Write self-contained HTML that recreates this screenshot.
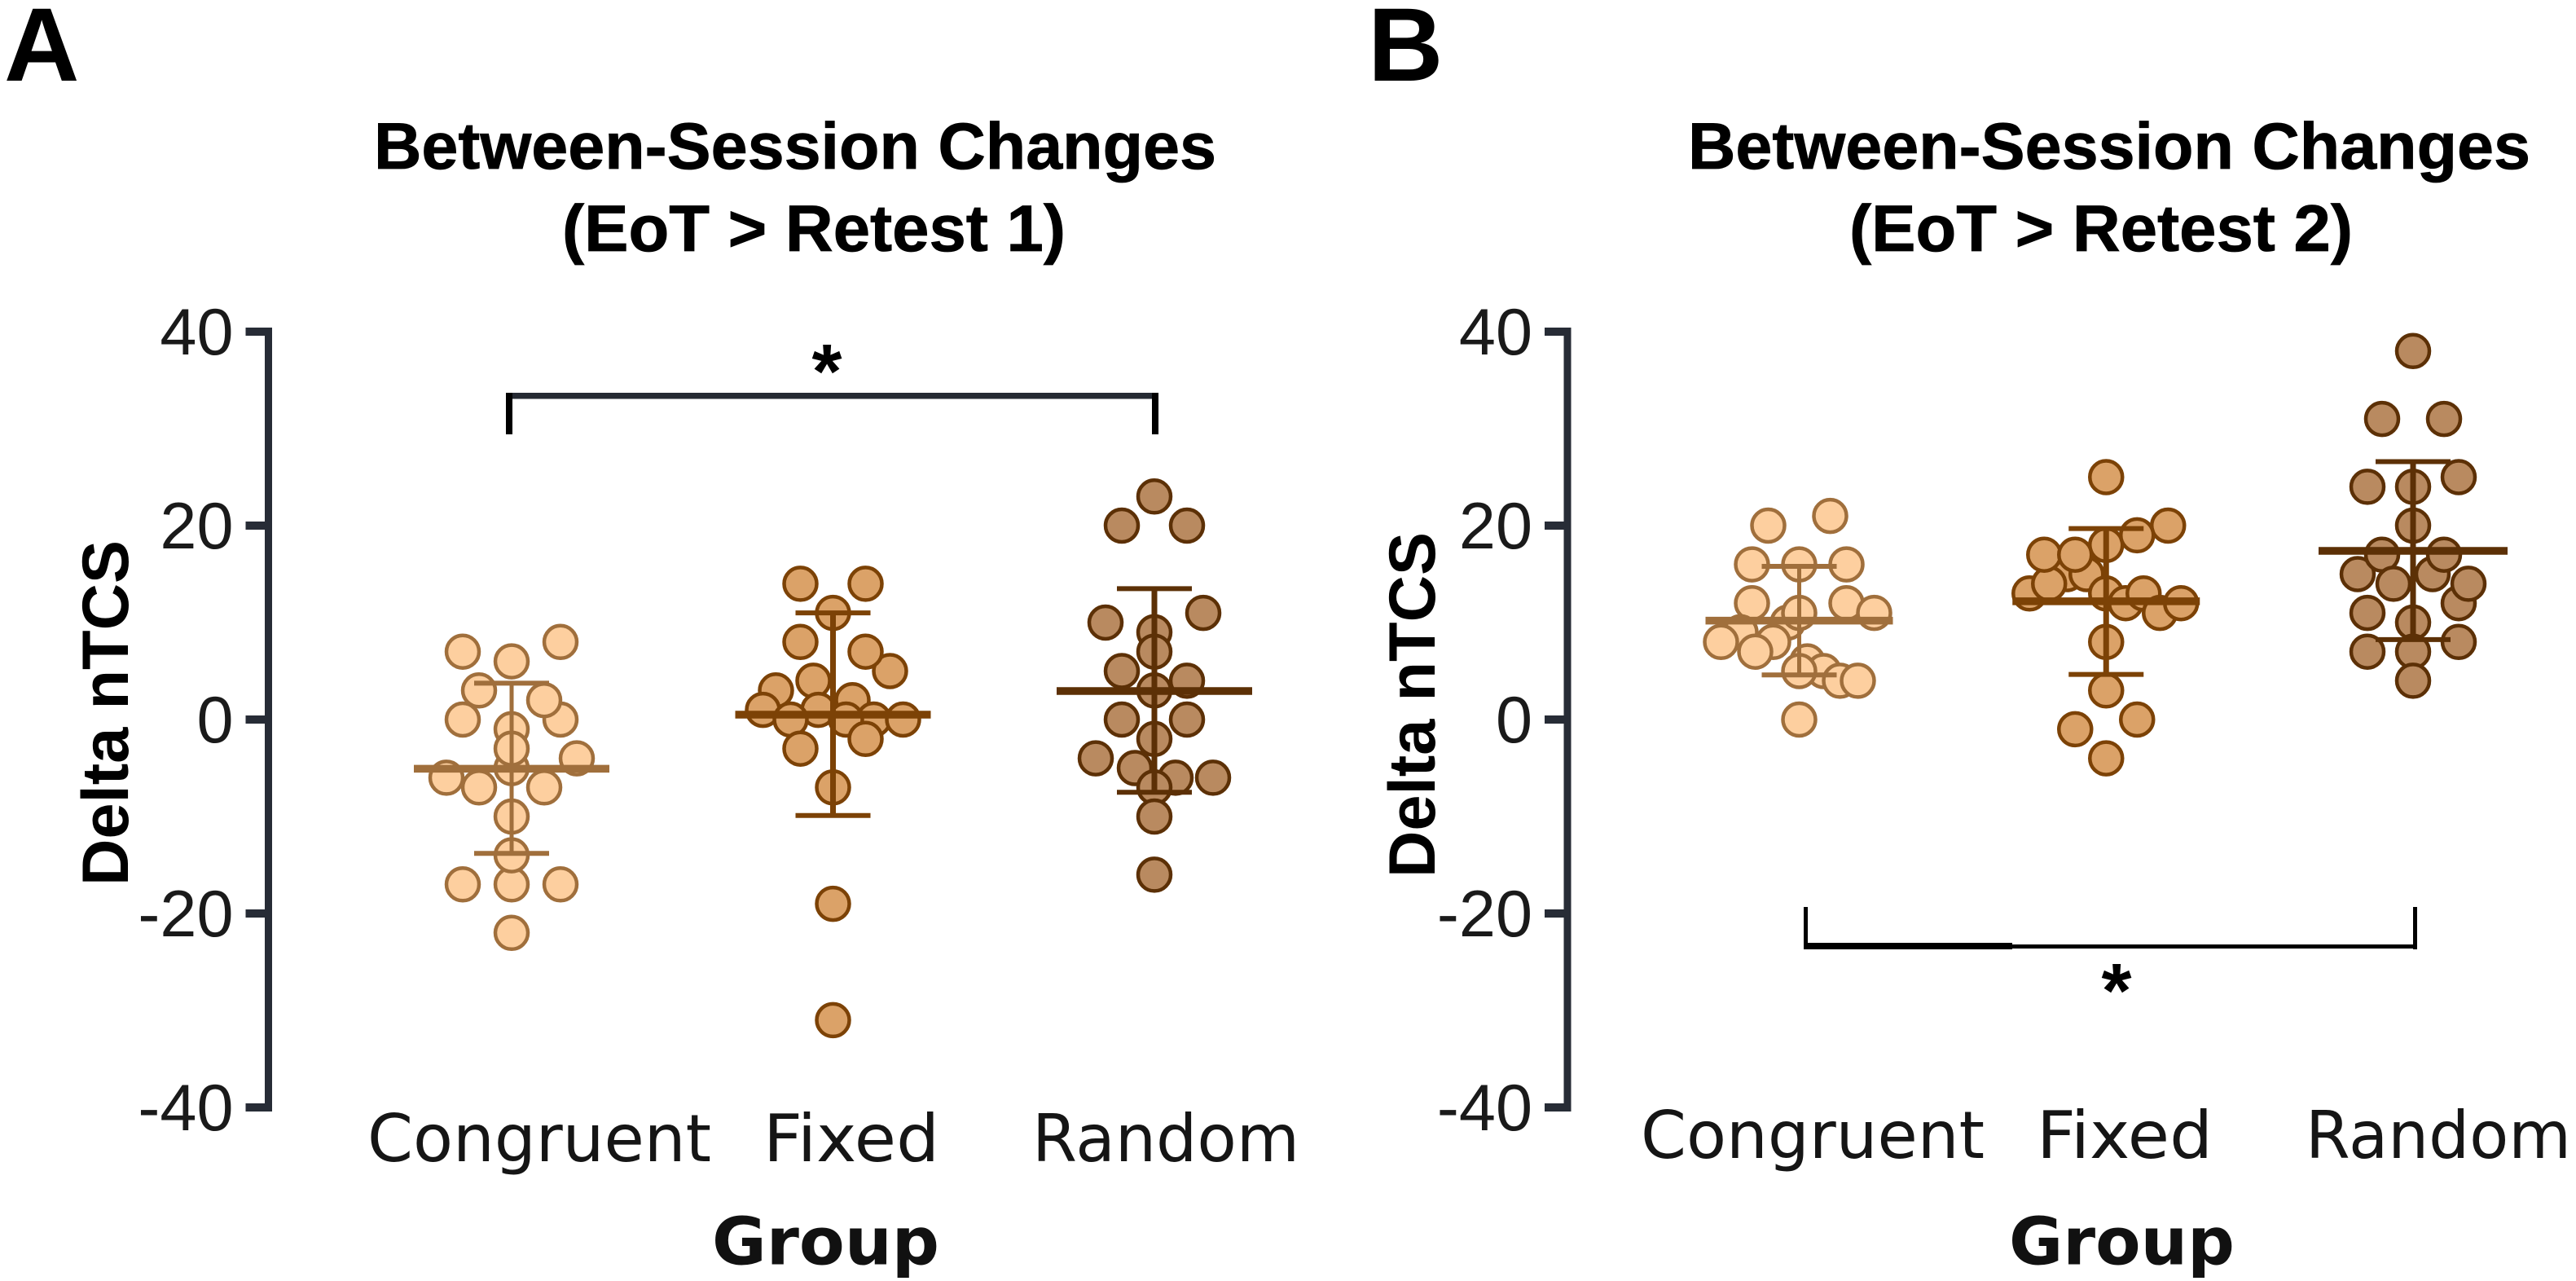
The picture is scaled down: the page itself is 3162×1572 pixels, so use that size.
<!DOCTYPE html>
<html lang="en">
<head>
<meta charset="utf-8">
<title>Between-Session Changes</title>
<style>
html,body{margin:0;padding:0;background:#fff;}
body{width:3162px;height:1572px;overflow:hidden;}
svg{display:block;}
.sans{font-family:"Liberation Sans",Arial,sans-serif;}
.bold{font-family:"Liberation Sans",Arial,sans-serif;font-weight:700;fill:#000;}
.cat{font-family:"DejaVu Sans",Verdana,sans-serif;fill:#151515;}
.catb{font-family:"DejaVu Sans",Verdana,sans-serif;font-weight:700;fill:#111;}
</style>
</head>
<body>
<svg id="chart" xmlns="http://www.w3.org/2000/svg" width="3162" height="1572" viewBox="0 0 3162 1572">
  <rect x="0" y="0" width="3162" height="1572" fill="#ffffff"/>

  <text class="bold" x="5" y="99" font-size="128">A</text>
  <text class="bold" x="1679" y="99" font-size="128">B</text>

  <text class="bold" x="459" y="207" font-size="81" textLength="1034" lengthAdjust="spacingAndGlyphs" stroke="#000" stroke-width="0.8">Between-Session Changes</text>
  <text class="bold" x="690" y="308" font-size="81" textLength="618" lengthAdjust="spacingAndGlyphs" stroke="#000" stroke-width="0.8">(EoT &gt; Retest 1)</text>
  <text class="bold" x="2072" y="207" font-size="81" textLength="1034" lengthAdjust="spacingAndGlyphs" stroke="#000" stroke-width="0.8">Between-Session Changes</text>
  <text class="bold" x="2270" y="308" font-size="81" textLength="618" lengthAdjust="spacingAndGlyphs" stroke="#000" stroke-width="0.8">(EoT &gt; Retest 2)</text>

  <text class="bold" transform="translate(157,1087) rotate(-90)" font-size="81" textLength="424" lengthAdjust="spacingAndGlyphs">Delta nTCS</text>
  <text class="bold" transform="translate(1761,1077) rotate(-90)" font-size="81" textLength="424" lengthAdjust="spacingAndGlyphs">Delta nTCS</text>

  <text class="catb" x="874" y="1551.5" font-size="80" textLength="279" lengthAdjust="spacingAndGlyphs">Group</text>
  <text class="catb" x="2466" y="1551.5" font-size="80" textLength="277" lengthAdjust="spacingAndGlyphs">Group</text>

  <g id="sig-a">
    <rect x="621" y="482" width="801" height="7.5" fill="#252a33"/>
    <rect x="621" y="482" width="8" height="51" fill="#000"/>
    <rect x="1414" y="482" width="8" height="51" fill="#000"/>
    <text class="bold" x="1015" y="488" font-size="95" text-anchor="middle">*</text>
  </g>
  <g id="sig-b">
    <rect x="2214" y="1157" width="256" height="8" fill="#000"/>
    <rect x="2470" y="1159" width="497" height="5" fill="#000"/>
    <rect x="2214" y="1113" width="5" height="52" fill="#000"/>
    <rect x="2962" y="1113" width="5" height="52" fill="#000"/>
    <text class="bold" x="2598" y="1248" font-size="95" text-anchor="middle">*</text>
  </g>
</svg>

<script>
// ---------- shared axis data ----------
const tickValues = [40, 20, 0, -20, -40];
const tickLabels = ['40', '20', '0', '-20', '-40'];
const categories = ['Congruent', 'Fixed', 'Random'];

// ---------- Panel A : EoT > Retest 1 (values, swarm slots, summary) ----------
const aCongruentValues = [-5, -1, -3, 8, 7, 6, 0, 2, 0, 3, -6, -7, -7, -4, -10, -17, -17, -17, -14, -22];
const aCongruentSlots  = [0, 0, 0, 3, -3, 0, 3, 2, -3, -2, -4, -2, 2, 4, 0, -3, 0, 3, 0, 0];
const aFixedValues = [14, 14, 11, 8, 5, 7, 4, 3, 2, 1, 1, 0, 0, 0, 0, -2, -3, -7, -19, -31];
const aFixedSlots  = [-2, 2, 0, -2, 3.5, 2, -1.2, -3.5, 1.2, -4.3, -0.9, -2.6, 2.5, 4.3, 0.8, 2, -2, 0, 0, 0];
const aRandomValues = [23, 20, 20, 11, 10, 9, 7, 5, 4, 3, 0, 0, -2, -4, -5, -6, -6, -7, -10, -16];
const aRandomSlots  = [0, -2, 2, 3, -3, 0, 0, -2, 2, 0, -2, 2, 0, -3.6, -1.2, 1.3, 3.6, 0, 0, 0];
const aMeans = [-5.07, 0.5, 2.94];
const aUpper = [3.75, 11.0, 13.5];
const aLower = [-13.8, -9.9, -7.5];

// ---------- Panel B : EoT > Retest 2 ----------
const bCongruentValues = [21, 20, 16, 16, 16, 12, 12, 10, 11, 11, 9, 8, 8, 7, 6, 5, 5, 4, 4, 0];
const bCongruentSlots  = [1.9, -1.9, -2.9, 0, 2.9, -2.9, 2.9, -0.7, 0, 4.6, -3.6, -4.8, -1.6, -2.7, 0.5, 1.5, 0, 2.5, 3.6, 0];
const bFixedValues = [25, 20, 18, 19, 13, 15, 14, 15, 17, 17, 13, 12, 13, 11, 12, 8, 3, 0, -1, -4];
const bFixedSlots  = [0, 3.8, 0, 1.9, -4.7, -2.4, -3.5, -1.2, -3.8, -1.9, 0, 1.2, 2.3, 3.3, 4.6, 0, 0, 1.9, -1.9, 0];
const bRandomValues = [38, 31, 31, 25, 24, 24, 20, 15, 15, 17, 17, 14, 12, 14, 11, 10, 8, 7, 7, 4];
const bRandomSlots  = [0, -1.9, 1.9, 2.8, -2.8, 0, 0, -3.4, 1.2, -1.9, 1.9, -1.2, 2.8, 3.4, -2.8, 0, 2.8, -2.8, 0, 0];
const bMeans = [10.2, 12.2, 17.4];
const bUpper = [15.8, 19.7, 26.6];
const bLower = [4.6, 4.65, 8.25];

// ---------- scales ----------
const NS = 'http://www.w3.org/2000/svg';
const svg = document.getElementById('chart');
const yDomain = [-40, 40];
const yRange = [1359, 407];
function yScale(v) {
  return yRange[0] + (v - yDomain[0]) / (yDomain[1] - yDomain[0]) * (yRange[1] - yRange[0]);
}
function makeXScale(first, step) {
  return function (i) { return first + i * step; };
}
function mk(tag, attrs, parent) {
  const el = document.createElementNS(NS, tag);
  for (const k in attrs) el.setAttribute(k, attrs[k]);
  parent.appendChild(el);
  return el;
}

const groupStyles = [
  { fill: '#fdcf9f', stroke: '#a06f3c' },
  { fill: '#dba268', stroke: '#7c4206' },
  { fill: '#b98a60', stroke: '#5c3006' }
];
const SLOT = 20;
const RADIUS = 20;

function drawAxis(parent, spineX, panel) {
  const axis = mk('g', {}, parent);
  
  
  const spine = mk('rect', { x: spineX - 4.5, y: yScale(40) - 5, width: 9, height: yScale(-40) - yScale(40) + 10, fill: '#272c36' }, axis);
  
  
  tickValues.forEach(function (v, i) {
    const tick = mk('rect', { x: spineX - 28, y: yScale(v) - 5, width: 28, height: 10, fill: '#272c36' }, axis);
    
    
    const lab = mk('text', { x: spineX - 43, y: yScale(v) + 28, 'font-size': 81, 'text-anchor': 'end', fill: '#1a1a1a', class: 'sans' }, axis);
    lab.textContent = tickLabels[i];
    
    
  });
}

function drawGroup(parent, x, idx, values, slots, mean, upper, lower, panel, half) {
  const st = groupStyles[idx];
  const g = mk('g', {}, parent);
  
  
  values.forEach(function (v, i) {
    const c = mk('circle', { cx: x + slots[i] * SLOT, cy: yScale(v), r: RADIUS, fill: st.fill, stroke: st.stroke, 'stroke-width': 4.5 }, g);
    
    
  });
  const stem = mk('line', { x1: x, x2: x, y1: yScale(upper), y2: yScale(lower), stroke: st.stroke, 'stroke-width': idx === 0 ? 5 : 7 }, g);
  
  
  const capTop = mk('line', { x1: x - 46, x2: x + 46, y1: yScale(upper), y2: yScale(upper), stroke: st.stroke, 'stroke-width': 6 }, g);
  
  
  const capBot = mk('line', { x1: x - 46, x2: x + 46, y1: yScale(lower), y2: yScale(lower), stroke: st.stroke, 'stroke-width': 6 }, g);
  
  
  const meanLine = mk('line', { x1: x - half, x2: x + half, y1: yScale(mean), y2: yScale(mean), stroke: st.stroke, 'stroke-width': 9.5 }, g);
  
  
}

function drawCategoryLabel(parent, text, x, y, len) {
  const t = mk('text', { x: x, y: y, 'font-size': 80, textLength: len, lengthAdjust: 'spacingAndGlyphs', class: 'cat' }, parent);
  t.textContent = text;
  
  
}

// ---------- Panel A ----------
const xA = makeXScale(628, 394.5);
drawAxis(svg, 329.5, 'a');
drawGroup(svg, xA(0), 0, aCongruentValues, aCongruentSlots, aMeans[0], aUpper[0], aLower[0], 'a', 120);
drawGroup(svg, xA(1), 1, aFixedValues, aFixedSlots, aMeans[1], aUpper[1], aLower[1], 'a', 120);
drawGroup(svg, xA(2), 2, aRandomValues, aRandomSlots, aMeans[2], aUpper[2], aLower[2], 'a', 120);
drawCategoryLabel(svg, categories[0], 451, 1425, 422);
drawCategoryLabel(svg, categories[1], 937, 1425, 216);
drawCategoryLabel(svg, categories[2], 1267, 1425, 328);

// ---------- Panel B ----------
const xB = makeXScale(2208.5, 376.75);
drawAxis(svg, 1924, 'b');
drawGroup(svg, xB(0), 0, bCongruentValues, bCongruentSlots, bMeans[0], bUpper[0], bLower[0], 'b', 115);
drawGroup(svg, xB(1), 1, bFixedValues, bFixedSlots, bMeans[1], bUpper[1], bLower[1], 'b', 115);
drawGroup(svg, xB(2), 2, bRandomValues, bRandomSlots, bMeans[2], bUpper[2], bLower[2], 'b', 116);
drawCategoryLabel(svg, categories[0], 2014, 1421, 422);
drawCategoryLabel(svg, categories[1], 2500, 1421, 216);
drawCategoryLabel(svg, categories[2], 2830, 1421, 326);
</script>
</body>
</html>
